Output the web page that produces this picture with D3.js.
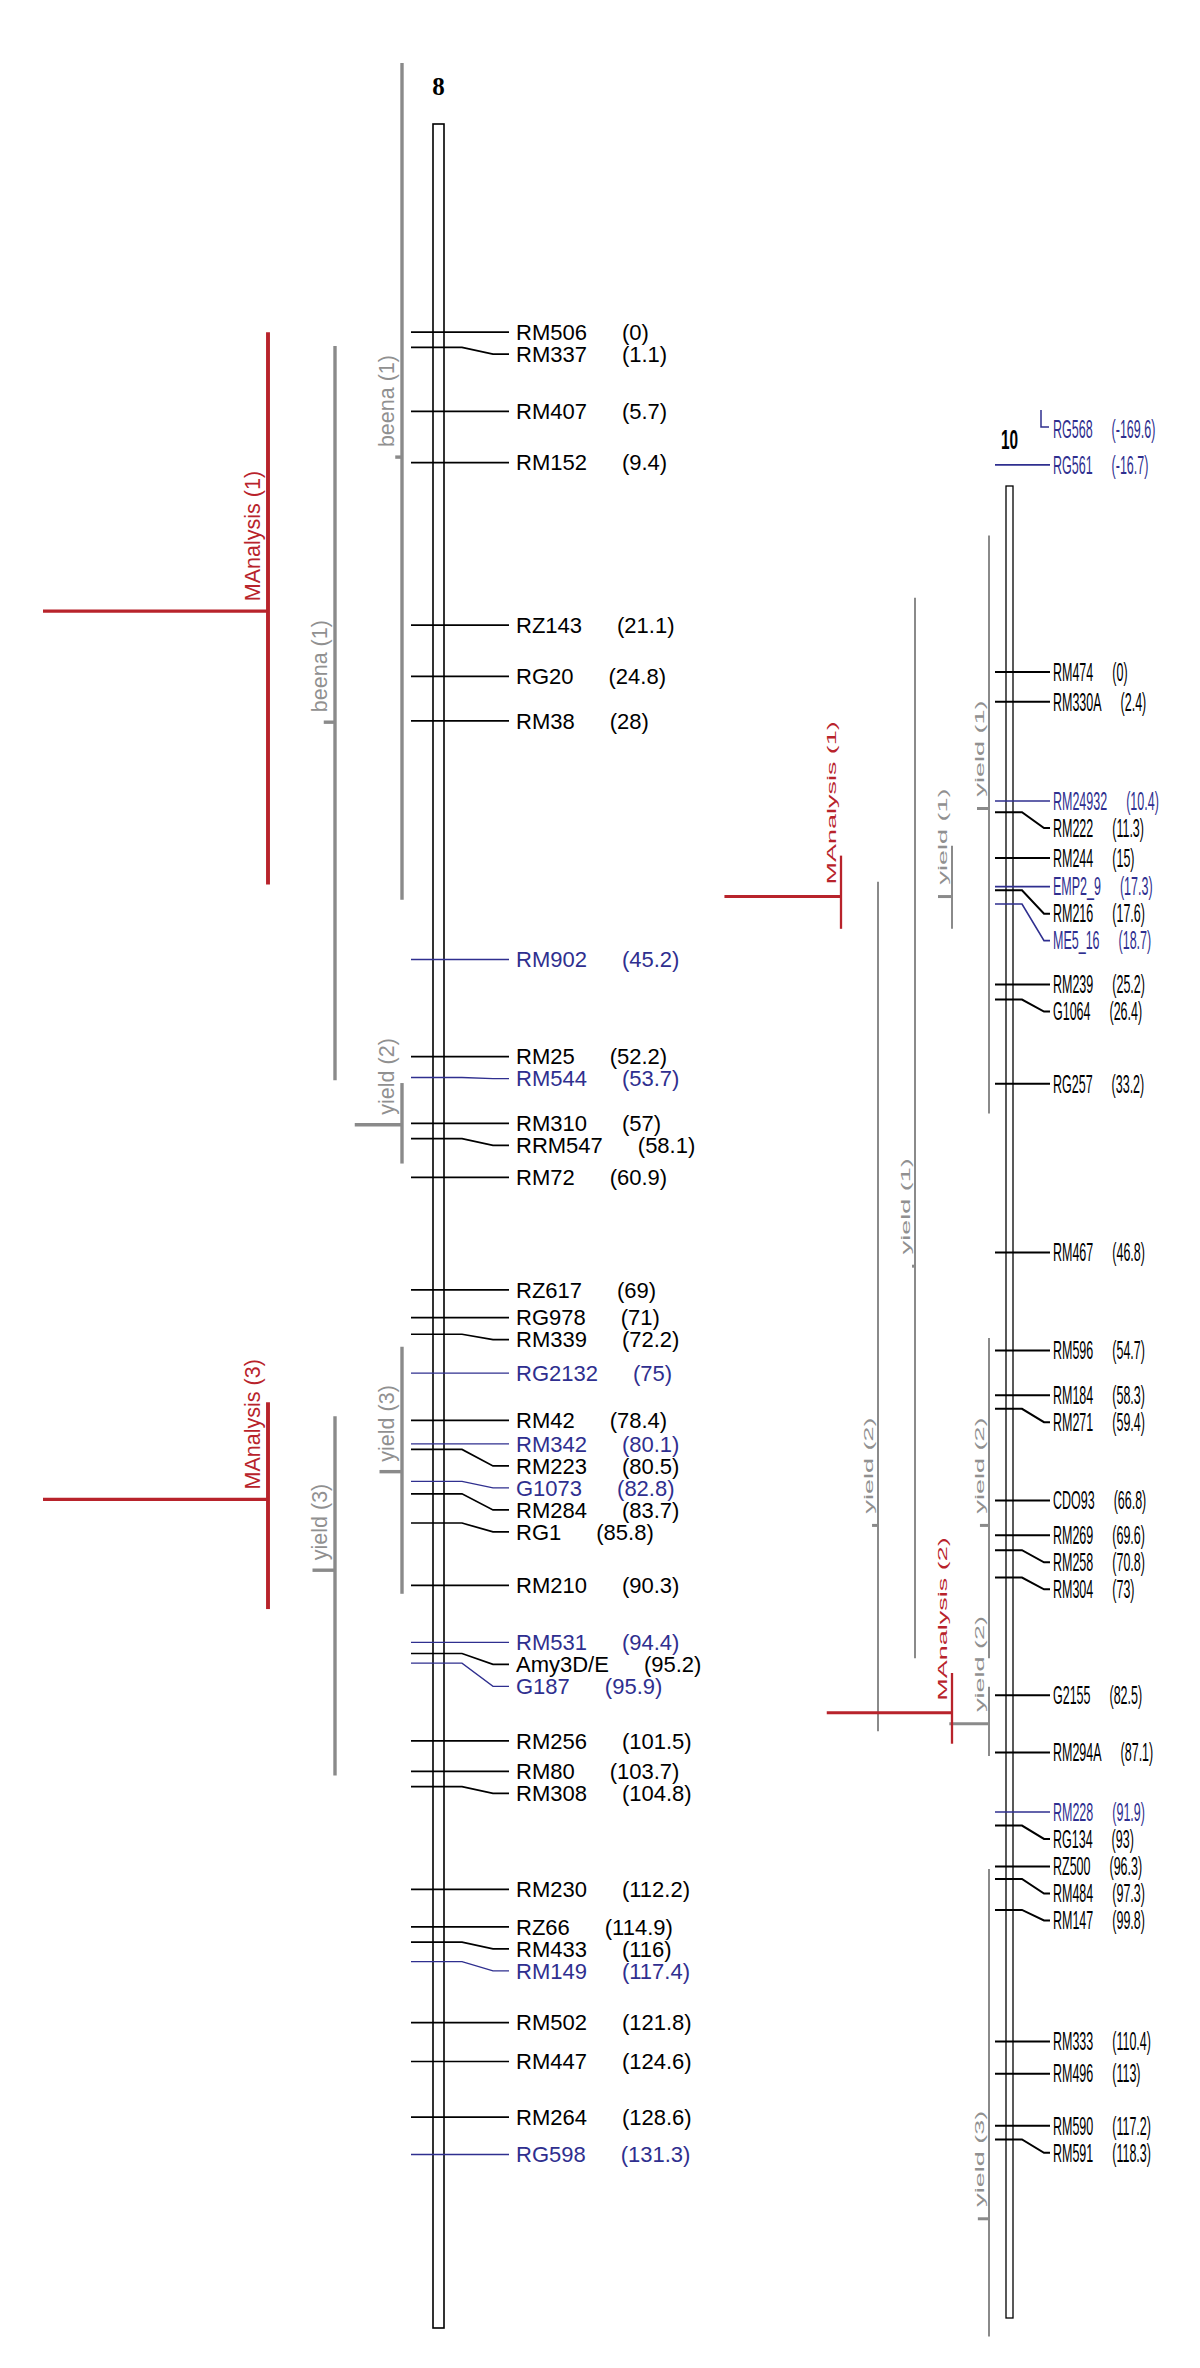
<!DOCTYPE html>
<html>
<head>
<meta charset="utf-8">
<script src="https://cdn.jsdelivr.net/npm/d3@7/dist/d3.min.js"></script>
<style>
  body { margin: 0; background: #fff; }
  svg text { font-family: "Liberation Sans", Arial, sans-serif; }
</style>
</head>
<body>
<svg id="chart" width="1200" height="2368"></svg>
<script>
/************************** DATA ****************************/

// chromosome 8 markers (cM)
var chr8Names = ["RM506", "RM337", "RM407", "RM152", "RZ143", "RG20", "RM38", "RM902",
  "RM25", "RM544", "RM310", "RRM547", "RM72", "RZ617", "RG978", "RM339", "RG2132",
  "RM42", "RM342", "RM223", "G1073", "RM284", "RG1", "RM210", "RM531", "Amy3D/E",
  "G187", "RM256", "RM80", "RM308", "RM230", "RZ66", "RM433", "RM149", "RM502",
  "RM447", "RM264", "RG598"];
var chr8Pos = [0, 1.1, 5.7, 9.4, 21.1, 24.8, 28, 45.2,
  52.2, 53.7, 57, 58.1, 60.9, 69, 71, 72.2, 75,
  78.4, 80.1, 80.5, 82.8, 83.7, 85.8, 90.3, 94.4, 95.2,
  95.9, 101.5, 103.7, 104.8, 112.2, 114.9, 116, 117.4, 121.8,
  124.6, 128.6, 131.3];
var chr8Blue = ["RM902", "RM544", "RG2132", "RM342", "G1073", "RM531", "G187", "RM149", "RG598"];
var chr8Extent = [-15, 143.8];

// chromosome 10 markers (cM)
var chr10Names = ["RG568", "RG561", "RM474", "RM330A", "RM24932", "RM222", "RM244", "EMP2_9",
  "RM216", "ME5_16", "RM239", "G1064", "RG257", "RM467", "RM596", "RM184", "RM271",
  "CDO93", "RM269", "RM258", "RM304", "G2155", "RM294A", "RM228", "RG134", "RZ500",
  "RM484", "RM147", "RM333", "RM496", "RM590", "RM591"];
var chr10Pos = [-169.6, -16.7, 0, 2.4, 10.4, 11.3, 15, 17.3,
  17.6, 18.7, 25.2, 26.4, 33.2, 46.8, 54.7, 58.3, 59.4,
  66.8, 69.6, 70.8, 73, 82.5, 87.1, 91.9, 93, 96.3,
  97.3, 99.8, 110.4, 113, 117.2, 118.3];
var chr10Blue = ["RG568", "RG561", "RM24932", "EMP2_9", "ME5_16", "RM228"];
var chr10Extent = [-15, 132.7];

// QTL intervals: trait, start, end, peak (cM), LOD
var qtl8Names = ["beena (1)", "beena (1)", "MAnalysis (1)", "yield (2)", "yield (3)", "yield (3)", "MAnalysis (3)"];
var qtl8Start = [-19.4, 1.0, 0, 54.1, 73.1, 78.1, 77.1];
var qtl8End   = [40.9, 53.9, 39.8, 59.9, 90.9, 104.0, 92.0];
var qtl8Peak  = [9.0, 28.1, 20.1, 57.1, 82.1, 89.2, 84.1];
var qtl8Lod   = [0.3, 0.5, 10, 2.1, 1.0, 1.0, 10];

var qtl10Names = ["yield (1)", "yield (1)", "yield (1)", "yield (2)", "MAnalysis (1)",
  "yield (2)", "yield (2)", "MAnalysis (2)", "yield (3)"];
var qtl10Start = [-11.0, 14.0, -6.0, 16.9, 14.8, 53.7, 81.8, 80.7, 96.5];
var qtl10End   = [35.6, 20.7, 79.5, 85.4, 20.7, 79.5, 87.4, 86.4, 134.2];
var qtl10Peak  = [11.0, 18.1, 47.9, 68.8, 18.1, 68.8, 84.8, 83.9, 124.7];
var qtl10Lod   = [0.97, 1.13, 0.24, 0.48, 9.4, 0.73, 3.2, 10.1, 0.9];

/************************** RENDER **************************/

var blue = "#2f2f8f",
    red = "#b8232b",
    grey = "#8a8a8a";

var svg = d3.select("#chart");

function zip(names, pos, blues) {
  return names.map(function(n, i) {
    return { name: n, pos: pos[i], blue: blues.indexOf(n) >= 0 };
  });
}

function zipQtl(names, start, end, peak, lod) {
  return names.map(function(n, i) {
    return { name: n, start: start[i], end: end[i], peak: peak[i], lod: lod[i] };
  });
}

function drawChromosome(o) {
  var y = d3.scaleLinear().domain(o.extent).range(o.pixels);
  var lod = d3.scaleLinear().domain([0, 1]).range([0, o.lodPx]);
  var g = svg.append("g");

  // bar
  g.append("rect")
    .attr("x", o.barX)
    .attr("y", y(o.extent[0]))
    .attr("width", o.barW)
    .attr("height", y(o.extent[1]) - y(o.extent[0]))
    .attr("fill", "#fff")
    .attr("stroke", "#000")
    .attr("stroke-width", o.barStroke);

  // title
  g.append("text")
    .attr("transform", "translate(" + (o.barX + o.barW / 2) + "," + o.titleY + ") scale(" + o.titleSx + ",1)")
    .attr("text-anchor", "middle")
    .attr("dy", "0.35em")
    .style("font-family", o.titleFont)
    .style("font-weight", "bold")
    .style("font-size", o.titleSize + "px")
    .text(o.title);

  // label layout: push overlapping labels down
  var markers = o.markers;
  var prev = -Infinity;
  markers.forEach(function(d) {
    d.ty = y(d.pos);
    d.off = d.ty < 0;
    if (!d.off) {
      d.ly = Math.max(d.ty, prev + o.spacing);
      prev = d.ly;
    }
  });
  for (var i = markers.length - 1; i >= 0; i--) {
    if (markers[i].off) markers[i].ly = markers[i + 1].ly - o.offGap;
  }

  markers.forEach(function(d) {
    var col = d.blue ? blue : "#000";
    if (d.off) {
      // marker lies far above the drawn part: short elbow only
      g.append("path")
        .attr("d", "M" + (o.labelX - 12) + "," + (d.ly - 19) + "V" + (d.ly - 2) + "H" + (o.labelX - 4))
        .attr("fill", "none").attr("stroke", col).attr("stroke-width", 1.5);
    } else {
      g.append("path")
        .attr("d", "M" + o.tick[0] + "," + d.ty + "H" + o.tick[1] +
          "L" + o.tick[2] + "," + d.ly + "H" + o.tick[3])
        .attr("fill", "none")
        .attr("stroke", col)
        .attr("stroke-width", d.blue ? o.tickW * 0.8 : o.tickW);
    }

    var t = g.append("text")
      .attr("transform", "translate(" + o.labelX + "," + d.ly + ") scale(" + o.sx + ",1)")
      .attr("dy", "0.35em")
      .style("font-size", o.fontSize + "px")
      .attr("fill", col)
      .text(d.name);
    var w = t.node().getComputedTextLength() * o.sx;

    g.append("text")
      .attr("transform", "translate(" + (o.labelX + w + o.parenGap) + "," + d.ly + ") scale(" + o.sx + ",1)")
      .attr("dy", "0.35em")
      .style("font-size", o.fontSize + "px")
      .attr("fill", col)
      .text("(" + d.pos + ")");
  });

  // QTL tracks, first free column
  var cols = [];
  o.qtls.forEach(function(q) {
    var c = 0;
    while (cols[c] && cols[c].some(function(p) { return q.start < p.end && q.end > p.start; })) c++;
    (cols[c] = cols[c] || []).push(q);
    q.x = o.qtlX - c * o.qtlStep;
  });

  o.qtls.forEach(function(q) {
    var isRed = q.name.indexOf("MAnalysis") == 0;
    var col = isRed ? red : grey;

    g.append("line")
      .attr("x1", q.x).attr("x2", q.x)
      .attr("y1", y(q.start)).attr("y2", y(q.end))
      .attr("stroke", col)
      .attr("stroke-width", isRed ? o.qtlW * 1.15 : o.qtlW);

    g.append("line")
      .attr("x1", q.x - lod(q.lod)).attr("x2", q.x)
      .attr("y1", y(q.peak)).attr("y2", y(q.peak))
      .attr("stroke", col)
      .attr("stroke-width", o.qtlHW);

    g.append("text")
      .attr("transform", "translate(" + (q.x - o.qtlLabelOff) + "," + (y(q.peak) - o.qtlLabelGap) +
        ") rotate(-90) scale(1," + o.sx + ")")
      .style("font-size", o.qtlFont + "px")
      .attr("fill", isRed ? red : "#909090")
      .text(q.name);
  });
}

drawChromosome({
  title: "8", titleY: 86, titleSize: 25, titleSx: 1, titleFont: "'Liberation Serif', serif",
  extent: chr8Extent, pixels: [124, 2328],
  barX: 433, barW: 11, barStroke: 1.6,
  markers: zip(chr8Names, chr8Pos, chr8Blue),
  spacing: 22, offGap: 30,
  tick: [411, 462, 493, 509], tickW: 1.7,
  labelX: 516, parenGap: 35, fontSize: 22, sx: 1,
  qtls: zipQtl(qtl8Names, qtl8Start, qtl8End, qtl8Peak, qtl8Lod),
  qtlX: 402, qtlStep: 67, qtlW: 3.4, qtlHW: 3.4, lodPx: 22.5,
  qtlFont: 21.5, qtlLabelOff: 8, qtlLabelGap: 10
});

drawChromosome({
  title: "10", titleY: 439, titleSize: 28, titleSx: 0.55, titleFont: "'Liberation Sans', Arial, sans-serif",
  extent: chr10Extent, pixels: [486, 2318],
  barX: 1006, barW: 7, barStroke: 1.3,
  markers: zip(chr10Names, chr10Pos, chr10Blue),
  spacing: 27, offGap: 36,
  tick: [995, 1022, 1044, 1050], tickW: 2,
  labelX: 1053, parenGap: 19, fontSize: 25, sx: 0.5,
  qtls: zipQtl(qtl10Names, qtl10Start, qtl10End, qtl10Peak, qtl10Lod),
  qtlX: 989, qtlStep: 37, qtlW: 2, qtlHW: 3, lodPx: 12.4,
  qtlFont: 27, qtlLabelOff: 5, qtlLabelGap: 12
});
</script>
</body>
</html>
